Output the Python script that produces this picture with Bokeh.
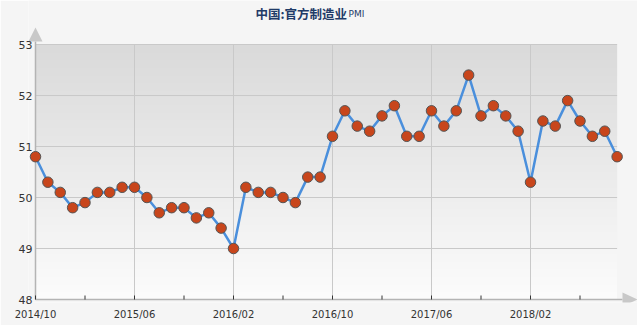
import numpy as np
from bokeh.plotting import figure
from bokeh.models import Range1d, FixedTicker, ColumnDataSource, LinearAxis
from bokeh.core.properties import value
from bokeh.embed import file_html
from bokeh.resources import INLINE

# ---- data ----
months = []
for y in range(2014, 2019):
    for m in range(1, 13):
        if (y == 2014 and m < 10) or (y == 2018 and m > 9):
            continue
        months.append(f"{y}/{m:02d}")
pmi = [50.8, 50.3, 50.1,
       49.8, 49.9, 50.1, 50.1, 50.2, 50.2, 50.0, 49.7, 49.8, 49.8, 49.6, 49.7,
       49.4, 49.0, 50.2, 50.1, 50.1, 50.0, 49.9, 50.4, 50.4, 51.2, 51.7, 51.4,
       51.3, 51.6, 51.8, 51.2, 51.2, 51.7, 51.4, 51.7, 52.4, 51.6, 51.8, 51.6,
       51.3, 50.3, 51.5, 51.4, 51.9, 51.5, 51.2, 51.3, 50.8]
y_ticks = [48, 49, 50, 51, 52, 53]
label_step = 8
minor_step = 4
title_main = "中国:官方制造业"
title_sub = "PMI"

idx = list(range(len(months)))
n_last = idx[-1]

# ---- pixel geometry ----
W, H = 637, 325
x0_px, y53_px, y48_px = 35, 44, 299
px_per_x = 12.375
px_per_y = (y48_px - y53_px) / (y_ticks[-1] - y_ticks[0])
frame_left, frame_right, frame_top, frame_bottom = 28, 637, 0, 302

def dx(px):
    return px / px_per_x

def dy(px):
    return px / px_per_y

x_start = -dx(x0_px - frame_left)
x_end = dx(frame_right - x0_px)
y_end = y_ticks[-1] + dy(y53_px - frame_top)
y_start = y_ticks[0] - dy(frame_bottom - y48_px)

p = figure(width=W, height=H, output_backend="svg", toolbar_location=None,
           x_range=Range1d(x_start, x_end), y_range=Range1d(y_start, y_end),
           min_border_left=frame_left, min_border_right=W - frame_right,
           min_border_top=frame_top, min_border_bottom=H - frame_bottom,
           x_axis_type=None, y_axis_type=None)
p.outline_line_color = None
p.border_fill_color = "#f5f5f5"
p.background_fill_color = "#f5f5f5"
p.xgrid.visible = False
p.ygrid.visible = False

# gradient background of plot area
nrows = 200
vals = np.linspace(252, 218, nrows).astype(np.uint32)
img = np.zeros((nrows, 1), dtype=np.uint32)
view = img.view(dtype=np.uint8).reshape((nrows, 1, 4))
view[:, 0, 0] = vals
view[:, 0, 1] = vals
view[:, 0, 2] = vals
view[:, 0, 3] = 255
r_img = p.image_rgba(image=[img], x=0, y=y_ticks[0], dw=n_last, dh=y_ticks[-1] - y_ticks[0])
r_img.level = "image"

# grid lines
hy = y_ticks[1:]
p.segment(x0=[0] * len(hy), y0=hy, x1=[n_last] * len(hy), y1=hy,
          line_color="#c9c9c9", line_width=1)
vx = idx[label_step::label_step]
p.segment(x0=vx, y0=[y_ticks[0]] * len(vx), x1=vx, y1=[y_ticks[-1]] * len(vx),
          line_color="#c9c9c9", line_width=1)

# axis lines and arrows
arrow_base_x = dx(622 - x0_px)
p.segment(x0=[0, 0], y0=[y_ticks[0], y_ticks[0]],
          x1=[arrow_base_x, 0], y1=[y_ticks[0], y_ticks[-1] + dy(3)],
          line_color="#b4b4b4", line_width=1.5)
p.patch(x=[-dx(7), dx(7), 0], y=[y_ticks[-1] + dy(3), y_ticks[-1] + dy(3), y_ticks[-1] + dy(17)],
        fill_color="#c8c8c8", line_color=None)
p.patch(x=[arrow_base_x, arrow_base_x, dx(637 - x0_px)],
        y=[y_ticks[0] - dy(7), y_ticks[0] + dy(7), y_ticks[0]],
        fill_color="#c8c8c8", line_color=None)

# small ticks on x axis
tx = idx[::minor_step]
p.segment(x0=tx, y0=[y_ticks[0]] * len(tx), x1=tx, y1=[y_ticks[0] + dy(4)] * len(tx),
          line_color="#333333", line_width=1)

# data
src = ColumnDataSource(dict(x=idx, y=pmi))
p.line("x", "y", source=src, line_color="#4a8fdc", line_width=2.5)
p.scatter("x", "y", source=src, size=10.5, fill_color="#c8461c",
          line_color="#555555", line_width=1)

# axes (labels only)
xa = LinearAxis(ticker=FixedTicker(ticks=idx[::label_step]),
                major_label_overrides={i: months[i] for i in idx[::label_step]})
xa.axis_line_color = None
xa.major_tick_line_color = None
xa.minor_tick_line_color = None
xa.major_tick_out = 0
xa.major_tick_in = 0
xa.major_label_standoff = 6
xa.major_label_text_font = "DejaVu Sans"
xa.major_label_text_font_size = "10px"
xa.major_label_text_color = "#333333"
p.add_layout(xa, "below")

ya = LinearAxis(ticker=FixedTicker(ticks=y_ticks))
ya.axis_line_color = None
ya.major_tick_line_color = None
ya.minor_tick_line_color = None
ya.major_tick_out = 0
ya.major_tick_in = 0
ya.major_label_standoff = -4
ya.major_label_text_font = "DejaVu Sans"
ya.major_label_text_font_size = "11px"
ya.major_label_text_color = "#333333"
p.add_layout(ya, "left")

# title (inside the extended frame)
p.text(x=[dx(255 - x0_px)], y=[y_ticks[-1] + dy(y53_px - 12.5)], text=[title_main],
       text_font=value("Noto Sans CJK SC"), text_font_style="bold",
       text_font_size="12.5px", text_color="#1f3b68",
       text_baseline="middle", text_align="left")
p.text(x=[dx(348 - x0_px)], y=[y_ticks[-1] + dy(y53_px - 13)], text=[title_sub],
       text_font=value("DejaVu Sans"), text_font_size="9px",
       text_color="#1f3b68", text_baseline="middle", text_align="left")

open("out.html", "w").write(file_html(p, INLINE))
